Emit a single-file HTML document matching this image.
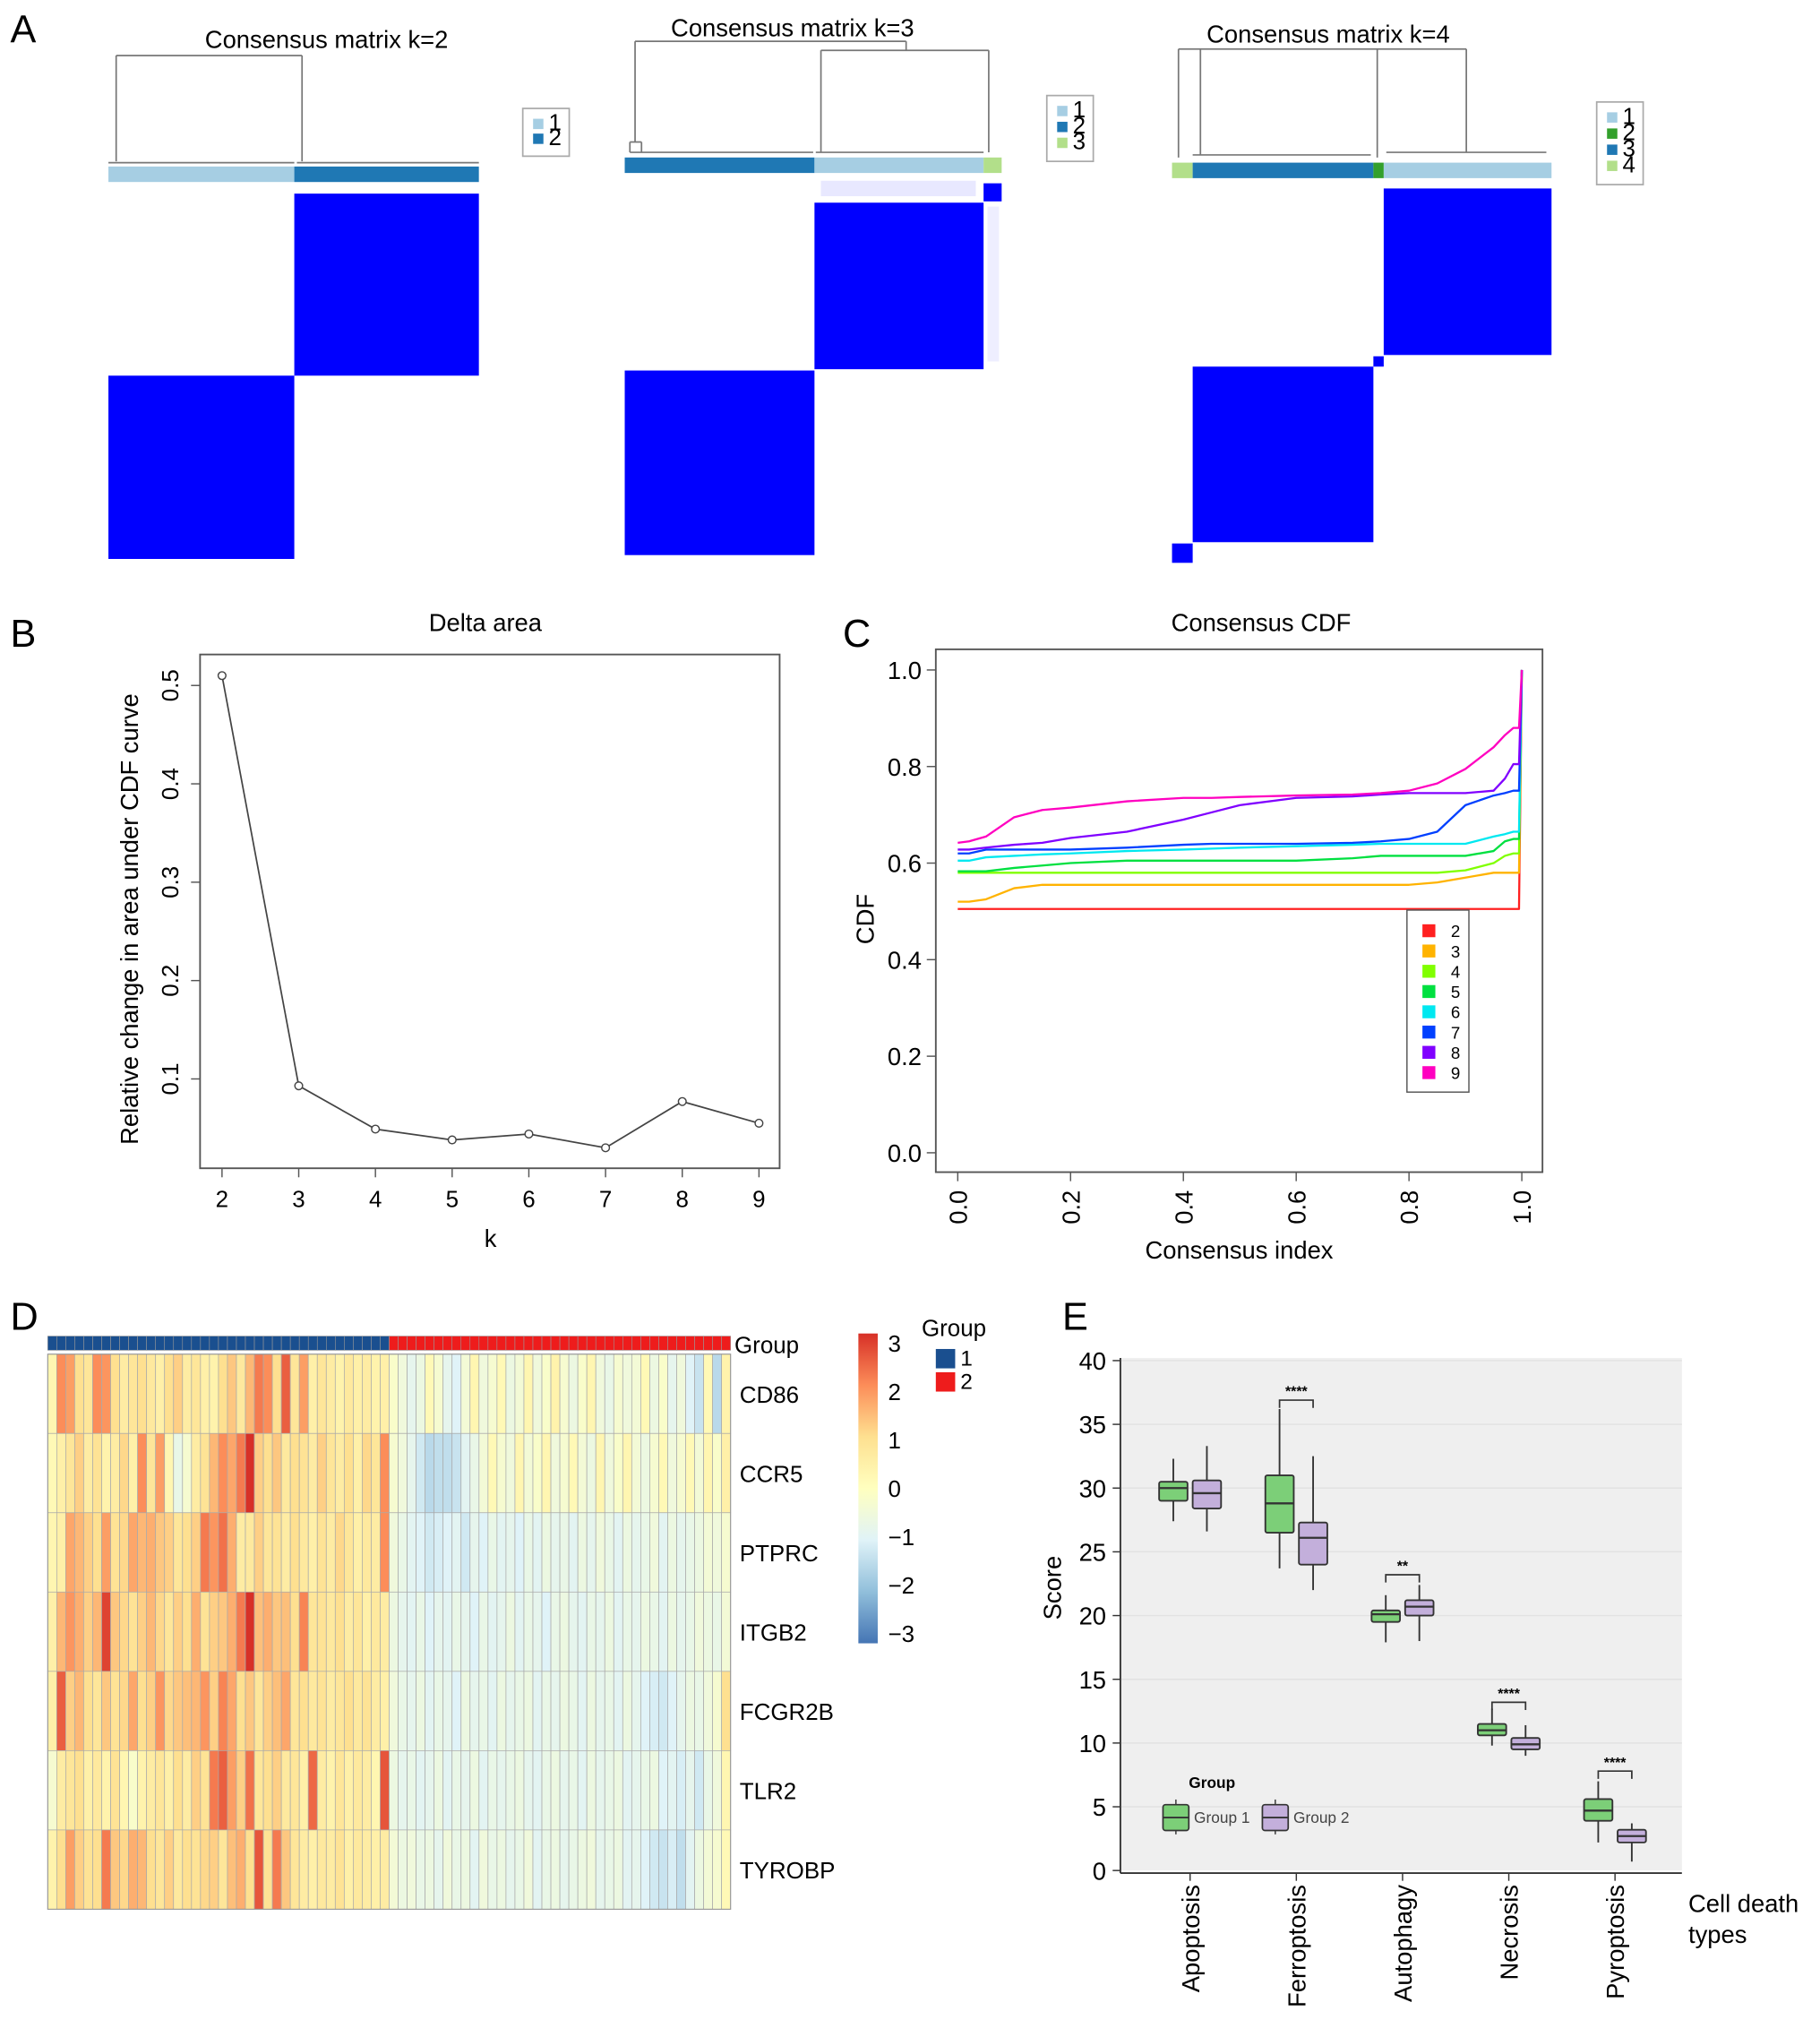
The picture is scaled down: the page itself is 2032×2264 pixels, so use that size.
<!DOCTYPE html>
<html><head><meta charset="utf-8">
<style>
html,body{margin:0;padding:0;background:#fff;}
svg{display:block;font-family:"Liberation Sans",Arial,sans-serif;}
</style></head>
<body>
<svg id="fig" width="2032" height="2264" viewBox="0 0 1410 1571" preserveAspectRatio="none" xmlns="http://www.w3.org/2000/svg">
<g id="A"></g>
<g id="B"></g>
<g id="C"></g>
<g id="D"></g>
<g id="E"></g>
</svg>
<script>
// ---------- DATA ----------
const deltaK = [2,3,4,5,6,7,8,9];
const deltaVals = [0.51,0.093,0.049,0.038,0.044,0.030,0.077,0.055];
const deltaYTicks = [0.1,0.2,0.3,0.4,0.5];
const cdfTicks = [0.0,0.2,0.4,0.6,0.8,1.0];
const cdfKs = [2,3,4,5,6,7,8,9];
const cdfColors = ["#ff2020","#ffb300","#80ff00","#00e040","#00e8f0","#0040ff","#8000ff","#ff00c0"];
const cdfX = [0,0.02,0.05,0.1,0.15,0.2,0.3,0.4,0.45,0.5,0.6,0.7,0.75,0.8,0.85,0.9,0.95,0.97,0.985,1.0];
const cdf2 = [0.505,0.505,0.505,0.505,0.505,0.505,0.505,0.505,0.505,0.505,0.505,0.505,0.505,0.505,0.505,0.505,0.505,0.505,0.505,1.0];
const cdf3 = [0.52,0.52,0.525,0.548,0.555,0.555,0.555,0.555,0.555,0.555,0.555,0.555,0.555,0.555,0.56,0.57,0.58,0.58,0.58,1.0];
const cdf4 = [0.58,0.58,0.58,0.58,0.58,0.58,0.58,0.58,0.58,0.58,0.58,0.58,0.58,0.58,0.58,0.585,0.6,0.615,0.62,1.0];
const cdf5 = [0.583,0.583,0.583,0.59,0.595,0.6,0.605,0.605,0.605,0.605,0.605,0.61,0.615,0.615,0.615,0.615,0.625,0.645,0.65,1.0];
const cdf6 = [0.605,0.605,0.612,0.615,0.618,0.62,0.625,0.628,0.63,0.632,0.635,0.638,0.64,0.64,0.64,0.64,0.655,0.66,0.665,1.0];
const cdf7 = [0.62,0.62,0.628,0.628,0.628,0.628,0.632,0.638,0.64,0.64,0.64,0.642,0.645,0.65,0.665,0.72,0.74,0.745,0.75,1.0];
const cdf8 = [0.628,0.628,0.632,0.638,0.642,0.652,0.665,0.69,0.705,0.72,0.735,0.738,0.742,0.745,0.745,0.745,0.75,0.775,0.805,1.0];
const cdf9 = [0.642,0.645,0.655,0.695,0.71,0.715,0.728,0.735,0.735,0.737,0.74,0.742,0.745,0.75,0.765,0.795,0.84,0.865,0.88,1.0];
const cdfSeries = [cdf2,cdf3,cdf4,cdf5,cdf6,cdf7,cdf8,cdf9];
const genes = ["CD86","CCR5","PTPRC","ITGB2","FCGR2B","TLR2","TYROBP"];
const colorbarTicks = [3,2,1,0,-1,-2,-3];
const hmCD86 = [0.3,2,1.8,1,0.8,2,1.9,1,0.6,0.8,1,0.7,0.5,1,1.2,0.6,0.8,0.5,0.4,1,1.3,0.7,1.5,2.2,2,1,2.5,0.8,1.8,0.5,0.8,0.6,0.4,0.7,0.5,0.6,0.4,0.5,
 -0.2,-0.5,-0.8,-0.6,0.2,-0.3,-0.8,-1,-0.4,0.3,-0.5,-0.3,0.2,-0.6,-0.4,0.3,-0.5,-0.2,0.4,-0.3,-0.6,-0.2,0.3,-0.5,-0.7,-0.3,-0.5,-0.4,0.2,-0.6,-0.2,-0.8,-0.5,-1,-1.3,0.2,-1.5,0.4];
const hmCCR5 = [0.2,0.5,0.8,1.2,0.6,0.9,0.4,0.6,1.1,0.5,2,0.8,1.8,0.3,-0.7,-0.3,0.6,0.9,1.5,2,1.7,2.2,3,1.2,1,1.3,0.7,1,0.9,0.6,1.2,0.8,0.6,1,0.5,1.1,0.8,2,
 -0.3,-0.5,-0.8,-1.2,-1.5,-1.4,-1.4,-1.3,-0.9,-0.7,-0.4,0.2,-0.3,-0.5,0.3,-0.4,-0.2,0.3,-0.5,-0.3,0.2,-0.4,-0.6,0.3,-0.5,-0.2,0.3,-0.4,-0.6,-0.3,0.2,-0.5,-0.3,0.2,-0.4,0.3,-0.2,0.5];
const hmPTPRC = [0.3,0.5,1.7,1.5,1.2,1,1.8,0.9,1.1,1.7,1.5,1.6,1.3,1.2,0.8,1,1.2,2.2,1.9,2.3,1.6,0.6,0.7,1.2,0.8,0.9,0.6,1,0.7,0.5,0.9,0.6,1.1,0.8,0.5,0.7,0.6,2,
 -0.5,-0.7,-0.9,-1,-1.2,-1.1,-1,-0.9,-1.2,-0.8,-1,-0.7,-0.9,-0.8,-1,-0.7,-0.9,-0.6,-0.8,-0.7,-0.9,-0.6,-0.8,-0.5,-0.7,-0.9,-0.6,-0.8,-0.7,-0.5,-0.9,-0.6,-0.8,-0.7,-0.6,-0.4,-0.5,-0.3];
const hmITGB2 = [0.5,1.5,1.9,1.6,1.2,1.5,2.8,1.3,1.1,0.9,1.2,1.5,1.1,0.8,1.2,1,1.6,0.9,1.2,1.3,1.6,2.2,3,1.4,1.6,1.3,1.4,1,2.1,0.8,0.9,0.7,1,0.6,0.8,0.5,0.7,0.6,
 -0.6,-0.8,-0.9,-0.7,-1,-0.8,-0.9,-0.7,-0.8,-1,-0.7,-0.9,-0.8,-0.6,-0.9,-0.7,-0.8,-1,-0.7,-0.6,-0.8,-0.9,-0.7,-0.8,-0.6,-0.9,-0.7,-0.8,-0.6,-0.7,-0.9,-0.6,-0.8,-0.7,-0.5,-0.6,-0.7,-0.4];
const hmFCGR2B = [0.5,2.5,1.2,1.5,1,0.8,1.3,0.9,1.1,1.7,1,1.2,1.9,1.1,1.3,1.4,1.5,1.9,1.2,2.1,1.7,1,1.3,0.8,1.2,1.4,1.7,0.8,1,0.7,0.9,0.6,0.8,1,0.7,0.9,0.6,0.5,
 -0.5,-0.7,-0.8,-0.6,-0.9,-0.7,-0.8,-1,-0.6,-0.8,-0.7,-0.9,-0.6,-0.8,-0.7,-0.6,-0.9,-0.7,-0.8,-0.6,-0.7,-0.9,-0.6,-0.8,-0.7,-0.9,-0.6,-0.8,-1,-1.1,-1.2,-1,-0.8,-0.6,-0.7,-0.5,-0.3,1];
const hmTLR2 = [-0.3,0.6,0.8,1,0.5,0.7,0.4,0.9,0.3,-0.2,0.4,0.6,0.8,0.5,1,0.6,1.2,0.9,2.2,2.5,1.8,1.2,2.3,0.8,1,1.2,0.7,0.8,0.5,2.4,0.6,0.4,0.8,0.5,0.7,0.6,0.3,2.6,
 -0.6,-0.8,-0.7,-0.9,-0.8,-0.6,-0.9,-0.7,-0.8,-0.6,-0.9,-0.7,-0.8,-0.7,-0.6,-0.8,-0.9,-0.7,-0.6,-0.8,-0.7,-0.9,-0.6,-0.8,-0.7,-0.6,-0.9,-0.8,-0.7,-0.6,-1,-0.9,-1.1,-0.8,-1.2,-0.7,-0.5,0.3];
const hmTYROBP = [0.4,1,1.8,1.2,0.9,1,2.2,1.3,1.1,1.6,1.5,1,0.8,1.2,0.7,1,0.9,1.1,1.2,0.8,1.4,1.6,1,2.6,0.9,2.2,1.3,0.8,0.6,0.5,0.7,0.6,0.9,0.5,0.7,0.6,0.5,0.6,
 -0.4,-0.6,-0.5,-0.7,-0.6,-0.8,-0.5,-0.7,-0.6,-0.9,-0.5,-0.7,-0.6,-0.8,-0.7,-0.5,-0.9,-0.7,-0.6,-0.8,-0.7,-0.6,-0.5,-0.8,-0.7,-0.6,-0.9,-0.8,-1,-1.2,-1.3,-1.1,-1.4,-0.9,-0.6,-0.4,-0.3,0.2];
const hmRows = [hmCD86,hmCCR5,hmPTPRC,hmITGB2,hmFCGR2B,hmTLR2,hmTYROBP];
const hmGroups = [1,1,1,1,1,1,1,1,1,1,1,1,1,1,1,1,1,1,1,1,1,1,1,1,1,1,1,1,1,1,1,1,1,1,1,1,1,1,2,2,2,2,2,2,2,2,2,2,2,2,2,2,2,2,2,2,2,2,2,2,2,2,2,2,2,2,2,2,2,2,2,2,2,2,2,2];
const boxCats = ["Apoptosis","Ferroptosis","Autophagy","Necrosis","Pyroptosis"];
const boxYTicks = [0,5,10,15,20,25,30,35,40];
// [lowWhisker, q1, median, q3, highWhisker]
const g1Stats = [[27.4,29,30,30.5,32.3],[23.7,26.5,28.8,31,36.2],[17.9,19.5,20.1,20.4,21.6],[9.8,10.6,11,11.5,12.7],[2.2,3.9,4.7,5.6,7]];
const g2Stats = [[26.6,28.4,29.6,30.6,33.3],[22,24,26.1,27.3,32.5],[18,20,20.7,21.2,22.4],[9,9.5,9.9,10.4,11.4],[0.7,2.2,2.7,3.2,3.7]];
const sigLevels = [null,36.9,23.2,13.2,7.8];
const sigLabels = ["","****","**","****","****"];

// ---------- helpers ----------
const NS="http://www.w3.org/2000/svg";
function mk(parent,tag,attrs,text){const e=document.createElementNS(NS,tag);for(const k in attrs)e.setAttribute(k,attrs[k]);if(text!==undefined)e.textContent=text;parent.appendChild(e);return e;}
const A=document.getElementById('A'),B=document.getElementById('B'),C=document.getElementById('C'),D=document.getElementById('D'),E=document.getElementById('E');
const fig=document.getElementById('fig');
let t;
[["A",20,33],["B",20,501],["C",665,501],["D",20,1030],["E",835,1030]].forEach(p=>{t=mk(fig,'text',{x:p[1]-12,y:p[2],'font-size':30});t.textContent=p[0];

});

// ---------- Panel A ----------
const LB="#a6cee3",DB="#1f78b4",GR="#33a02c",LG="#b2df8a",BLUE="#0000ff",GL="#777";
function line(p,x1,y1,x2,y2){return mk(p,'line',{x1,y1,x2,y2,stroke:GL,'stroke-width':1.2});}
function rect(p,x,y,w,h,f){return mk(p,'rect',{x,y,width:w,height:h,fill:f});}
function legendBox(p,x,y,h,cols,labels){mk(p,'rect',{x,y,width:36,height:h,fill:'#fff',stroke:'#aaa','stroke-width':1.2});
 const step=(h-14)/cols.length;cols.forEach((c,i)=>{rect(p,x+8,y+8+i*step,8,8,c);mk(p,'text',{x:x+20,y:y+17+i*step,'font-size':18},labels[i]);});}
// k=2
mk(A,'text',{x:253,y:37,'font-size':19,'text-anchor':'middle'},'Consensus matrix k=2');
line(A,90,43,234,43);line(A,90,43,90,125);line(A,234,43,234,125);line(A,84,126,228,126);line(A,230,126,371,126);
rect(A,84,129,144,12,LB);rect(A,228,129,143,12,DB);
rect(A,228,150,143,141,BLUE);rect(A,84,291,144,142,BLUE);
legendBox(A,405,84,37,[LB,DB],["1","2"]);
// k=3
mk(A,'text',{x:614,y:28,'font-size':19,'text-anchor':'middle'},'Consensus matrix k=3');
line(A,492,32,702,32);line(A,492,32,492,110);line(A,702,32,702,39);line(A,636,39,766,39);line(A,636,39,636,118);line(A,766,39,766,118);
line(A,488,110,497,110);line(A,488,110,488,118);line(A,497,110,497,118);line(A,488,118,630,118);line(A,632,118,762,118);
rect(A,484,122,147,12,DB);rect(A,631,122,131,12,LB);rect(A,762,122,14,12,LG);
rect(A,762,142,14,14,BLUE);rect(A,631,157,131,129,BLUE);rect(A,484,287,147,143,BLUE);
rect(A,636,140,120,12,'#e8e8ff');rect(A,765,160,9,120,'#eeeeff');
legendBox(A,811,74,51,[LB,DB,LG],["1","2","3"]);
// k=4
mk(A,'text',{x:1029,y:33,'font-size':19,'text-anchor':'middle'},'Consensus matrix k=4');
line(A,913,38,1136,38);line(A,913,38,913,122);line(A,930,38,930,120);line(A,1067,38,1067,122);line(A,1136,38,1136,118);
line(A,924,120,1062,120);line(A,1074,118,1198,118);
rect(A,908,126,16,12,LG);rect(A,924,126,140,12,DB);rect(A,1064,126,8,12,GR);rect(A,1072,126,130,12,LB);
rect(A,1072,146,130,129,BLUE);rect(A,1064,276,8,8,BLUE);rect(A,924,284,140,136,BLUE);rect(A,908,421,16,15,BLUE);
legendBox(A,1237,79,64,[LB,GR,DB,LG],["1","2","3","4"]);

// ---------- Panel B ----------
const bx=k=>172+(k-2)*(588-172)/7, by=v=>912-762*v;
mk(B,'rect',{x:155,y:507,width:449,height:398,fill:'none',stroke:'#555','stroke-width':1.3});
mk(B,'text',{x:376,y:489,'font-size':19,'text-anchor':'middle'},'Delta area');
deltaK.forEach(k=>{mk(B,'line',{x1:bx(k),y1:905,x2:bx(k),y2:912,stroke:'#555'});mk(B,'text',{x:bx(k),y:935,'font-size':18,'text-anchor':'middle'},String(k));});
deltaYTicks.forEach(v=>{mk(B,'line',{x1:148,y1:by(v),x2:155,y2:by(v),stroke:'#555'});mk(B,'text',{x:0,y:0,'font-size':18,'text-anchor':'middle',transform:`translate(138,${by(v)}) rotate(-90)`},String(v));});
mk(B,'text',{x:380,y:966,'font-size':19,'text-anchor':'middle'},'k');
mk(B,'text',{x:0,y:0,'font-size':19,'text-anchor':'middle',transform:'translate(107,712) rotate(-90)'},'Relative change in area under CDF curve');
mk(B,'polyline',{points:deltaK.map((k,i)=>bx(k)+','+by(deltaVals[i])).join(' '),fill:'none',stroke:'#444','stroke-width':1.2});
deltaK.forEach((k,i)=>{const c=mk(B,'circle',{cx:bx(k),cy:by(deltaVals[i]),r:3,fill:'#fff',stroke:'#444','stroke-width':1});

});

// ---------- Panel C ----------
const cx=v=>742+v*(1179-742), cy=v=>893-v*374;
mk(C,'rect',{x:725,y:503,width:470,height:405,fill:'none',stroke:'#555','stroke-width':1.3});
mk(C,'text',{x:977,y:489,'font-size':19,'text-anchor':'middle'},'Consensus CDF');
cdfTicks.forEach(v=>{mk(C,'line',{x1:718,y1:cy(v),x2:725,y2:cy(v),stroke:'#555'});mk(C,'text',{x:714,y:cy(v)+7,'font-size':19,'text-anchor':'end'},v.toFixed(1));
 mk(C,'line',{x1:cx(v),y1:908,x2:cx(v),y2:915,stroke:'#555'});mk(C,'text',{x:0,y:0,'font-size':19,'text-anchor':'end',transform:`translate(${cx(v)+7},922) rotate(-90)`},v.toFixed(1));});
mk(C,'text',{x:0,y:0,'font-size':19,'text-anchor':'middle',transform:'translate(677,712) rotate(-90)'},'CDF');
mk(C,'text',{x:960,y:975,'font-size':19,'text-anchor':'middle'},'Consensus index');
cdfSeries.forEach((s,i)=>{let pts=[];cdfX.forEach((x,j)=>{if(j===cdfX.length-1)pts.push(cx(cdfX[j-1]+0.01)+','+cy(s[j-1]));pts.push(cx(x)+','+cy(s[j]));});
 const pl=mk(C,'polyline',{points:pts.join(' '),fill:'none',stroke:cdfColors[i],'stroke-width':1.6,'stroke-linejoin':'round'});
 
 });
mk(C,'rect',{x:1090,y:705,width:48,height:141,fill:'#fff',stroke:'#555','stroke-width':1});
cdfKs.forEach((k,i)=>{rect(C,1102,716+i*15.7,10,10,cdfColors[i]);mk(C,'text',{x:1124,y:726+i*15.7,'font-size':13},String(k));});

// ---------- Panel D ----------
const nC=hmGroups.length, hx0=37, hw=529/nC, hy0=1049, hh=430/genes.length;
const stops=[[-3,[69,117,180]],[-2,[145,191,219]],[-1,[224,243,248]],[0,[255,255,191]],[1,[254,224,144]],[2,[252,141,89]],[3,[215,48,39]]];
function col(v){v=Math.max(-3,Math.min(3,v));for(let i=0;i<6;i++){const a=stops[i],b=stops[i+1];if(v<=b[0]){const f=(v-a[0])/(b[0]-a[0]);return 'rgb('+a[1].map((c,j)=>Math.round(c+(b[1][j]-c)*f)).join(',')+')';}}return 'rgb(215,48,39)';}
hmGroups.forEach((g,j)=>{mk(D,'rect',{x:hx0+j*hw,y:1035,width:hw,height:11,fill:g===1?'#1a4f8f':'#ee1c1c',stroke:'#999','stroke-width':0.4});});
mk(D,'text',{x:569,y:1048,'font-size':18},'Group');
hmRows.forEach((row,i)=>{row.forEach((v,j)=>{const r=mk(D,'rect',{x:hx0+j*hw,y:hy0+i*hh,width:hw,height:hh,fill:col(v),stroke:'#aaa','stroke-width':0.5});
 
 });
 mk(D,'text',{x:573,y:hy0+i*hh+hh/2+7,'font-size':18},genes[i]);});
mk(D,'rect',{x:hx0,y:hy0,width:529,height:430,fill:'none',stroke:'#999','stroke-width':0.8});
const cb=mk(D,'defs',{});const lg=mk(cb,'linearGradient',{id:'cbg',x1:0,y1:0,x2:0,y2:1});
stops.slice().reverse().forEach((s,i)=>mk(lg,'stop',{offset:(i/6),'stop-color':'rgb('+s[1].join(',')+')'}));
mk(D,'rect',{x:665,y:1033,width:15,height:240,fill:'url(#cbg)'});
colorbarTicks.forEach((v,i)=>mk(D,'text',{x:688,y:1047+i*37.5,'font-size':18},v<0?'\u2212'+(-v):String(v)));
mk(D,'text',{x:714,y:1035,'font-size':18},'Group');
rect(D,725,1045,15,15,'#1a4f8f');rect(D,725,1063,15,15,'#ee1c1c');
mk(D,'text',{x:744,y:1058,'font-size':17},'1');mk(D,'text',{x:744,y:1076,'font-size':17},'2');

// ---------- Panel E ----------
const ey=v=>1449-v*(1449-1054)/40, ex=i=>922+i*82.3;
mk(E,'rect',{x:868,y:1052,width:435,height:397,fill:'#efefef'});
boxYTicks.forEach(v=>{if(v>0)mk(E,'line',{x1:868,y1:ey(v),x2:1303,y2:ey(v),stroke:'#e2e2e2','stroke-width':1});
 mk(E,'line',{x1:862,y1:ey(v),x2:868,y2:ey(v),stroke:'#333'});mk(E,'text',{x:857,y:ey(v)+7,'font-size':19,'text-anchor':'end'},String(v));});
mk(E,'line',{x1:868,y1:1052,x2:868,y2:1451,stroke:'#333','stroke-width':1.3});
mk(E,'line',{x1:868,y1:1451,x2:1303,y2:1451,stroke:'#333','stroke-width':1.3});
mk(E,'text',{x:0,y:0,'font-size':19,'text-anchor':'middle',transform:'translate(822,1230) rotate(-90)'},'Score');
function box(p,c,s,fill,name){const w=22;
 const g=mk(p,'g',{});
 
 
 mk(g,'line',{x1:c,y1:ey(s[0]),x2:c,y2:ey(s[4]),stroke:'#333','stroke-width':1.3});
 mk(g,'rect',{x:c-w/2,y:ey(s[3]),width:w,height:ey(s[1])-ey(s[3]),fill:fill,stroke:'#333','stroke-width':1.3,rx:1.5});
 mk(g,'line',{x1:c-w/2,y1:ey(s[2]),x2:c+w/2,y2:ey(s[2]),stroke:'#333','stroke-width':1.6});}
boxCats.forEach((name,i)=>{const c=ex(i);
 mk(E,'line',{x1:c,y1:1451,x2:c,y2:1457,stroke:'#333'});
 mk(E,'text',{x:0,y:0,'font-size':19,'text-anchor':'end',transform:`translate(${c+7},1460) rotate(-90)`},name);
 box(E,c-13,g1Stats[i],'#7ccf78','box-g1-'+name.toLowerCase());box(E,c+13,g2Stats[i],'#c3afdb','box-g2-'+name.toLowerCase());
 if(sigLevels[i]!==null){const y=ey(sigLevels[i]);
  mk(E,'polyline',{points:`${c-13},${y+6} ${c-13},${y} ${c+13},${y} ${c+13},${y+6}`,fill:'none',stroke:'#333','stroke-width':1.2});
  mk(E,'text',{x:c,y:y-3,'font-size':11,'text-anchor':'middle','font-weight':'bold'},sigLabels[i]);}});
mk(E,'text',{x:1308,y:1481,'font-size':19},'Cell death');mk(E,'text',{x:1308,y:1505,'font-size':19},'types');
mk(E,'text',{x:939,y:1385,'font-size':12,'font-weight':'bold','text-anchor':'middle'},'Group');
[[911,'#7ccf78','Group 1'],[988,'#c3afdb','Group 2']].forEach(L=>{
 mk(E,'line',{x1:L[0],y1:1394,x2:L[0],y2:1421,stroke:'#333'});
 mk(E,'rect',{x:L[0]-10,y:1398,width:20,height:20,fill:L[1],stroke:'#333','stroke-width':1.2,rx:2});
 mk(E,'line',{x1:L[0]-10,y1:1408,x2:L[0]+10,y2:1408,stroke:'#333','stroke-width':1.3});
 mk(E,'text',{x:L[0]+14,y:1412,'font-size':12,fill:'#444'},L[2]);});
</script>
</body></html>
